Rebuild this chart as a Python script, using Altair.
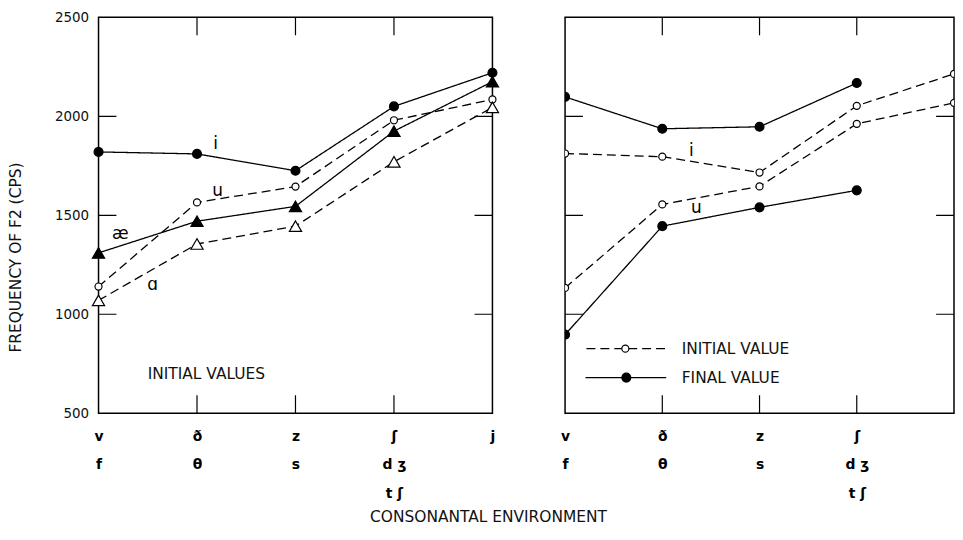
import json
import altair as alt
import pandas as pd

# ---------------- categories / tick labels ----------------
x_index = [0, 1, 2, 3, 4]
row1 = ["v", "ð", "z", "ʃ", "j"]
row2 = ["f", "θ", "s", "d ʒ", ""]
row3 = ["", "", "", "t ʃ", ""]
y_ticks = [500, 1000, 1500, 2000, 2500]
inner_x_ticks = [1, 2, 3]
inner_y_ticks = [1000, 1500, 2000]

# ---------------- left panel: initial values ----------------
left_i = [1820, 1810, 1725, 2050, 2220]
left_u = [1140, 1565, 1645, 1980, 2085]
left_ae = [1310, 1470, 1545, 1925, 2175]
left_a = [1070, 1355, 1445, 1770, 2045]

# ---------------- right panel: initial vs final ----------------
right_i_initial = [1812, 1796, 1716, 2053, 2214]
right_i_final = [2098, 1937, 1947, 2168]
right_u_initial = [1133, 1555, 1646, 1962, 2068]
right_u_final = [897, 1445, 1540, 1626]

# annotations (label, x, value)
left_notes = [("i", 1.19, 1862), ("u", 1.21, 1620), ("æ", 0.22, 1405), ("ɑ", 0.55, 1150)]
right_notes = [("i", 1.30, 1823), ("u", 1.35, 1538)]
left_caption = ("INITIAL VALUES", 0.50, 696)
legend_labels = ["INITIAL VALUE", "FINAL VALUE"]
legend_styles = ["dashed", "solid"]
legend_markers = ["open_circle", "filled_circle"]
legend_y = [826, 680]
legend_x0 = [0.22, 0.21]
legend_x1 = [1.08, 1.04]
legend_xm = [0.62, 0.63]
legend_xt = [1.20, 1.20]

FONT = "DejaVu Sans"
W, H = 396, 398
W_R = 391
Y_MIN, Y_MAX = y_ticks[0], y_ticks[-1]
X_MIN, X_MAX = x_index[0], x_index[-1]

label_lines = [[r for r in (a, b, c) if r] for a, b, c in zip(row1, row2, row3)]
label_expr = json.dumps(label_lines, ensure_ascii=False) + "[datum.value]"

xs = alt.Scale(domain=[X_MIN, X_MAX], nice=False, zero=False)
ys = alt.Scale(domain=[Y_MIN, Y_MAX], nice=False, zero=False)
dash_scale = alt.Scale(domain=["solid", "dashed"], range=[[1, 0], [9, 5]])

# inner tick positions (frame ticks pointing into the plot)
xtick_df = pd.DataFrame([(x, y) for x in inner_x_ticks for y in (Y_MIN, Y_MAX)], columns=["x", "value"])
ytick_df = pd.DataFrame([(x, y) for y in inner_y_ticks for x in (X_MIN, X_MAX)], columns=["x", "value"])


def series_df(name, values, style, marker):
    return pd.DataFrame({
        "x": x_index[:len(values)],
        "value": values,
        "series": name,
        "style": style,
        "marker": marker,
    })


MARKERS = {
    "filled_circle": dict(shape="circle", size=80, fill="black"),
    "open_circle": dict(shape="circle", size=50, fill="white"),
    "filled_triangle": dict(shape="triangle-up", size=150, fill="black"),
    "open_triangle": dict(shape="triangle-up", size=150, fill="white"),
}


def XE(field="x"):
    return alt.X(f"{field}:Q", scale=xs, axis=None)


def YE(field="value"):
    return alt.Y(f"{field}:Q", scale=ys, axis=None)


def panel(df, left_side, clip, notes, x_label_values):
    if left_side:
        yaxis = alt.Axis(orient="left", values=y_ticks, ticks=False, domain=False, grid=False,
                         labelPadding=10, labelFont=FONT, labelFontSize=13.5, labelColor="#111",
                         labelFlush=False, labelOverlap=False, format="d",
                         title="FREQUENCY OF F2 (CPS)", titleFont=FONT, titleFontSize=15.5,
                         titleFontWeight="normal", titleColor="#111", titleAngle=270,
                         titleX=-83, titleY=241, titleAlign="center", titleBaseline="middle")
    else:
        yaxis = None
    ax_main = alt.Chart(df).mark_point(opacity=0, size=0).encode(
        x=alt.X("x:Q", scale=xs, axis=alt.Axis(
            orient="bottom", values=x_label_values, labelExpr=label_expr, ticks=False,
            domain=False, grid=False, labelPadding=16, labelBaseline="top", labelFont=FONT,
            labelFontSize=14, labelFontWeight="bold", labelColor="black", labelLineHeight=29,
            labelFlush=False, labelOverlap=False, labelBound=False, title=None)),
        y=alt.Y("value:Q", scale=ys, axis=yaxis),
    )
    xticks = alt.Chart(xtick_df).mark_tick(orient="vertical", size=36, thickness=1.2,
                                           color="black", opacity=1, clip=True).encode(x=XE(), y=YE())
    yticks = alt.Chart(ytick_df).mark_tick(orient="horizontal", size=36, thickness=1.2,
                                           color="black", opacity=1, clip=True).encode(x=XE(), y=YE())
    lines = alt.Chart(df).mark_line(color="black", strokeWidth=1.3, clip=clip).encode(
        x=XE(), y=YE(),
        detail="series:N",
        strokeDash=alt.StrokeDash("style:N", scale=dash_scale, legend=None),
    )
    layers = [ax_main, xticks, yticks, lines]
    for m, props in MARKERS.items():
        sub = df[df["marker"] == m]
        if len(sub) == 0:
            continue
        layers.append(alt.Chart(sub).mark_point(
            shape=props["shape"], size=props["size"], filled=True, fill=props["fill"],
            stroke="black", strokeWidth=1.2, opacity=1, clip=clip).encode(x=XE(), y=YE()))
    notes_df = pd.DataFrame(notes, columns=["label", "x", "value"])
    layers.append(alt.Chart(notes_df).mark_text(
        font=FONT, fontSize=17, color="black", align="center", baseline="middle").encode(
        x=XE(), y=YE(), text="label:N"))
    return layers


left_df = pd.concat([
    series_df("i", left_i, "solid", "filled_circle"),
    series_df("u", left_u, "dashed", "open_circle"),
    series_df("ae", left_ae, "solid", "filled_triangle"),
    series_df("a", left_a, "dashed", "open_triangle"),
], ignore_index=True)

right_df = pd.concat([
    series_df("i_init", right_i_initial, "dashed", "open_circle"),
    series_df("i_final", right_i_final, "solid", "filled_circle"),
    series_df("u_init", right_u_initial, "dashed", "open_circle"),
    series_df("u_final", right_u_final, "solid", "filled_circle"),
], ignore_index=True)

left_layers = panel(left_df, True, False, left_notes, x_index)
cap_df = pd.DataFrame([left_caption], columns=["label", "x", "value"])
left_layers.append(alt.Chart(cap_df).mark_text(
    font=FONT, fontSize=15.5, color="#111", align="left", baseline="middle").encode(
    x=XE(), y=YE(), text="label:N"))
left = alt.layer(*left_layers).resolve_axis(x="independent", y="independent").properties(width=W, height=H)

right_layers = panel(right_df, False, True, right_notes, x_index[:4])
leg_df = pd.DataFrame({
    "label": legend_labels, "style": legend_styles, "marker": legend_markers,
    "value": legend_y, "x0": legend_x0, "x1": legend_x1, "xm": legend_xm, "xt": legend_xt,
})
right_layers.append(alt.Chart(leg_df).mark_rule(color="black", strokeWidth=1.3).encode(
    x=XE("x0"), x2="x1:Q", y=YE(),
    strokeDash=alt.StrokeDash("style:N", scale=dash_scale, legend=None),
))
for m in legend_markers:
    props = MARKERS[m]
    right_layers.append(alt.Chart(leg_df[leg_df["marker"] == m]).mark_point(
        shape=props["shape"], size=props["size"], filled=True, fill=props["fill"],
        stroke="black", strokeWidth=1.2, opacity=1).encode(x=XE("xm"), y=YE()))
right_layers.append(alt.Chart(leg_df).mark_text(
    font=FONT, fontSize=15.5, color="#111", align="left", baseline="middle").encode(
    x=XE("xt"), y=YE(), text="label:N"))
right = alt.layer(*right_layers).resolve_axis(x="independent", y="independent").properties(width=W_R, height=H)

chart = alt.hconcat(left, right, spacing=57).properties(
    title=alt.TitleParams("CONSONANTAL ENVIRONMENT", orient="bottom", anchor="middle",
                          font=FONT, fontSize=15.5, fontWeight="normal", color="#111",
                          offset=9, dx=7),
    padding={"left": 0, "top": 0, "right": 0, "bottom": 0},
).configure_view(stroke="black", strokeWidth=1.5)

chart.save("out.html", embed_options={"renderer": "svg", "actions": False})
